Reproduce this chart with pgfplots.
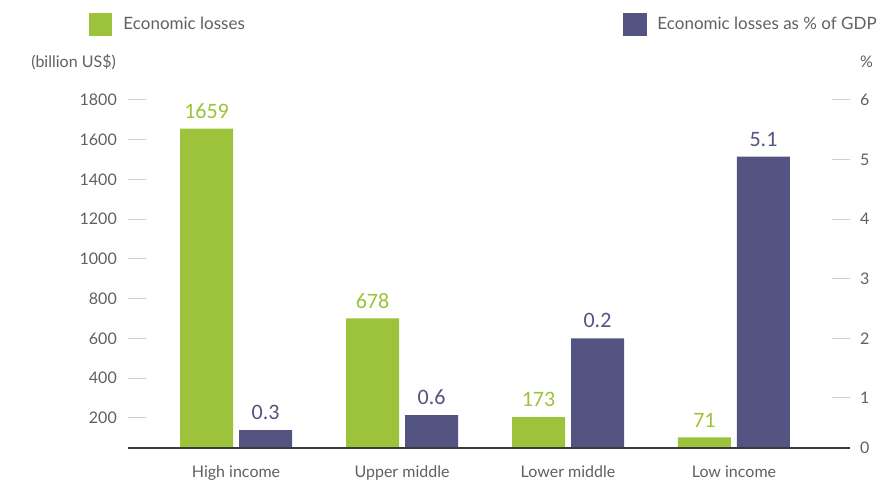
\documentclass[border=0pt]{standalone}
\usepackage{fontspec}
\setmainfont{Lato}
\newfontfamily\valfont{Carlito}
\usepackage{pgfplots}
\pgfplotsset{compat=1.18}

\definecolor{lossgreen}{HTML}{9CC33B}
\definecolor{gdppurple}{HTML}{535481}
\definecolor{txtgrey}{HTML}{606060}
\definecolor{tickgrey}{HTML}{CFCFCF}
\definecolor{basegrey}{HTML}{3A3A3A}

\pgfplotsset{
  twin/.style={
    scale only axis, width=722bp, height=348bp,
    at={(128bp,33bp)}, anchor=south west,
    xmin=-0.651, xmax=3.699,
    ybar, bar width=53bp,
    axis line style={draw=none},
    tick align=inside, major tick length=18bp,
    y tick style={tickgrey, line width=1bp},
    x tick style={draw=none},
    ticklabel style={font=\fontsize{16bp}{19bp}\selectfont, text=txtgrey},
    /pgf/number format/1000 sep={},
    /pgf/number format/assume math mode=true,
    nodes near coords, point meta=explicit symbolic,
    every node near coord/.append style={font=\valfont\fontsize{22bp}{24bp}\selectfont,
      anchor=south, inner sep=0pt, yshift=10bp},
    legend style={draw=none, fill=none, inner sep=0pt, column sep=9bp,
      font=\fontsize{17bp}{20bp}\selectfont, text=txtgrey},
    legend image code/.code={\fill[##1] (0bp,-11.25bp) rectangle (23bp,11.25bp);},
  },
}

\begin{document}
\begin{tikzpicture}
\path[use as bounding box] (0,0) rectangle (884bp,481bp);

% left axis: economic losses (billion US$)
\begin{axis}[twin,
  ymin=48, ymax=1800, ytick={200,400,...,1800}, ytick pos=left,
  yticklabel style={anchor=east, inner sep=0pt, xshift=-11bp},
  xtick={0,1,2,3}, xticklabels={High income, Upper middle, Lower middle, Low income},
  xticklabel style={anchor=north, inner sep=0pt, yshift=-18bp},
  bar shift=-29.5bp,
  legend style={at={(rel axis cs:-0.0536,1.217)}, anchor=west},
  extra description/.code={
    \node[anchor=base east, inner sep=0pt, text=txtgrey, font=\fontsize{16bp}{19bp}\selectfont]
      at (rel axis cs:-0.0166,1.092) {(billion US\$)};
  },
]
\addplot[fill=lossgreen, draw=none, text=lossgreen] coordinates {
  (0,1656) [1659]
  (1,700)  [678]
  (2,203)  [173]
  (3,101)  [71]
};
\legend{Economic losses}
\end{axis}

% right axis: economic losses as % of GDP
\begin{axis}[twin,
  ymin=0.16, ymax=6, ytick={1,2,...,6}, ytick pos=right, yticklabel pos=right,
  extra y ticks={0.16}, extra y tick labels={0},
  extra y tick style={major tick length=0pt},
  yticklabel style={anchor=west, inner sep=0pt, xshift=10bp},
  xtick=\empty,
  bar shift=29.5bp,
  legend style={at={(rel axis cs:0.686,1.217)}, anchor=west},
  extra description/.code={
    \draw[basegrey, line width=2.6bp] (rel axis cs:0,0) -- (rel axis cs:1,0);
    \node[anchor=base west, inner sep=0pt, text=txtgrey, font=\fontsize{16bp}{19bp}\selectfont]
      at (rel axis cs:1.0139,1.092) {\%};
  },
]
\addplot[fill=gdppurple, draw=none, text=gdppurple] coordinates {
  (0,0.46) [0.3]
  (1,0.71) [0.6]
  (2,2.0)  [0.2]
  (3,5.05) [5.1]
};
\legend{Economic losses as \% of GDP}
\end{axis}
\end{tikzpicture}
\end{document}
